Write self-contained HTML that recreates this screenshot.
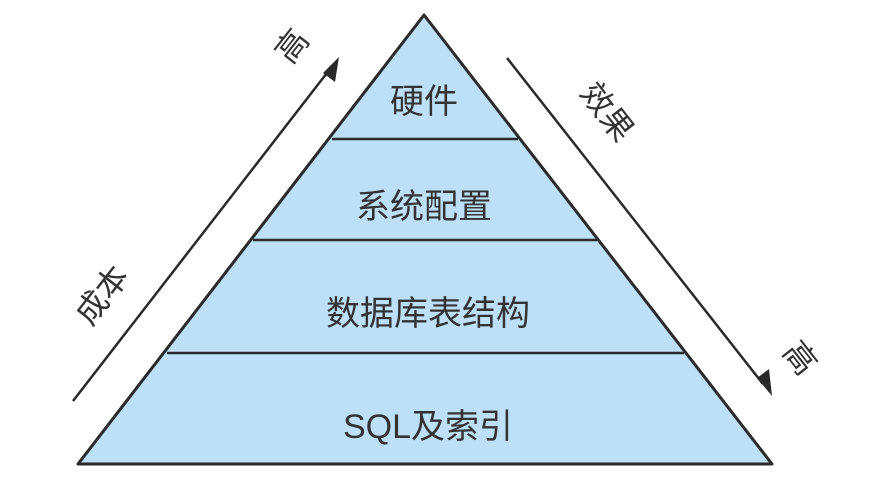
<!DOCTYPE html>
<html><head><meta charset="utf-8"><style>body{margin:0;background:#fff}</style></head><body>
<svg width="877" height="492" viewBox="0 0 877 492" xmlns="http://www.w3.org/2000/svg" font-family="Liberation Sans, Noto Sans CJK SC, sans-serif">
<polygon points="424,15 772,464 78,464" fill="#bddff8" stroke="#2a2a2a" stroke-width="3" stroke-linejoin="round"/>
<g stroke="#2a2a2a" stroke-width="2.5">
<line x1="332" y1="139" x2="518" y2="139"/>
<line x1="253" y1="240" x2="597" y2="240"/>
<line x1="167" y1="353" x2="684" y2="353"/>
<line x1="73" y1="401" x2="330" y2="69"/>
<line x1="507" y1="58" x2="763" y2="384"/>
</g>
<polygon points="339,57 335,82 323,73" fill="#2a2a2a"/>
<polygon points="772,396 757,378 769,369" fill="#2a2a2a"/>
<g fill="#333" font-size="34" text-anchor="middle">
<text x="424" y="113">硬件</text>
<text x="424" y="218">系统配置</text>
<text x="428" y="325">数据库表结构</text>
<text x="428" y="438">SQL及索引</text>
</g>
<g fill="#333" font-size="32" text-anchor="middle">
<text transform="translate(292,46) rotate(-52)" y="11">高</text>
<text transform="translate(102,295) rotate(-52)" y="11">成本</text>
<text transform="translate(607,112) rotate(52)" y="11">效果</text>
<text transform="translate(800,358) rotate(52)" y="11">高</text>
</g>
</svg>
</body></html>
